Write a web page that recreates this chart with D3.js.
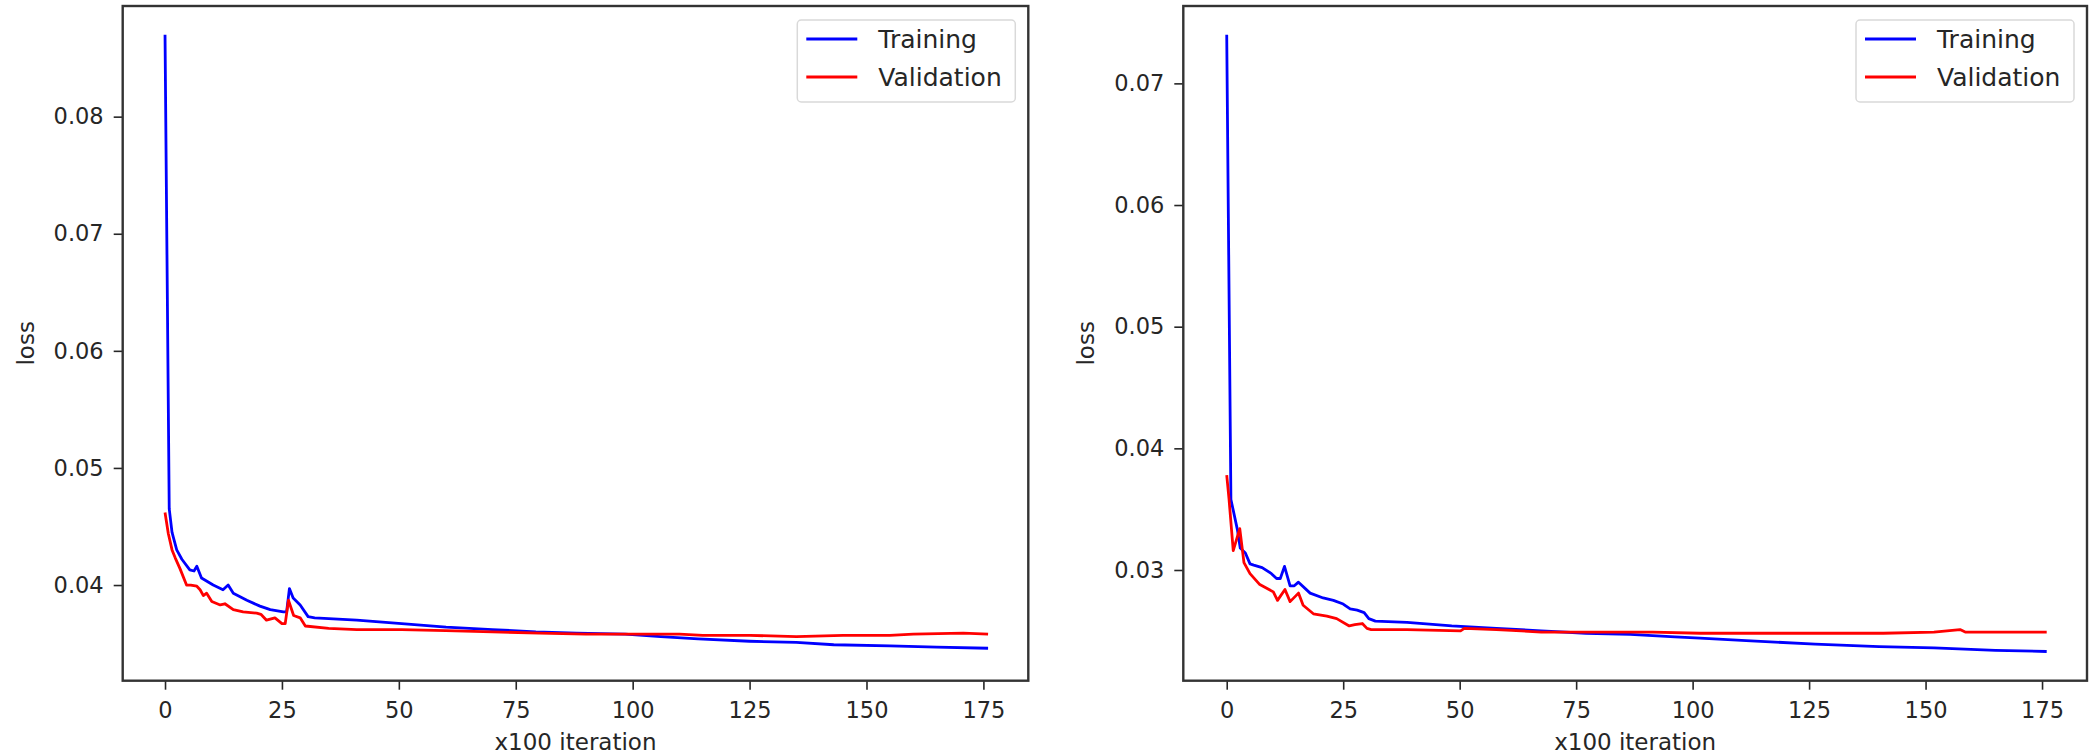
<!DOCTYPE html>
<html lang="en">
<head>
  <meta charset="UTF-8">
  <title>Loss curves</title>
  <script src="https://d3js.org/d3.v7.min.js"></script>
  <style>
    body { margin: 0; background: white; }
    text { font-family: "DejaVu Sans", sans-serif; fill: #262626; }
    .axis .domain { stroke: none; }
    .axis line { stroke: #262626; stroke-width: 1.6; }
  </style>
</head>
<body>
  <svg id="svg1" width="2100" height="755"></svg>
  <script>
    // x100 iteration, loss
    const leftTraining = [
      [0, 0.0870], [0.9, 0.0465], [1.5, 0.0445], [2.5, 0.0430], [3.6, 0.0422], [5.3, 0.0413],
      [6.2, 0.0412], [6.8, 0.0416], [7.8, 0.0406], [10.3, 0.0400], [12.4, 0.0396], [13.5, 0.0400],
      [14.6, 0.0393], [17.5, 0.0387], [20.3, 0.0382], [22.5, 0.0379], [25.3, 0.0377], [26.0, 0.0377],
      [26.6, 0.0397], [27.4, 0.0389], [28.9, 0.0383], [30.6, 0.0373], [32, 0.0372], [41, 0.0370],
      [50.6, 0.0367], [60.1, 0.0364], [70, 0.0362], [79.3, 0.0360], [88, 0.0359], [98.4, 0.0358],
      [106, 0.0356], [114, 0.0354], [125, 0.0352], [135, 0.0351], [143, 0.0349], [155, 0.0348],
      [165, 0.0347], [176, 0.0346]
    ];
    const leftValidation = [
      [0, 0.0462], [0.7, 0.0444], [1.5, 0.0430], [2.2, 0.0423], [3.2, 0.0414], [4.6, 0.0400],
      [5.5, 0.0400], [6.8, 0.0399], [7.5, 0.0396], [8.2, 0.0391], [8.9, 0.0393], [10.0, 0.0386],
      [11.8, 0.0383], [12.8, 0.0384], [14.6, 0.0379], [16.7, 0.0377], [19.6, 0.0376], [20.5, 0.0375],
      [21.7, 0.0370], [23.5, 0.0372], [25.0, 0.0367], [25.7, 0.0367], [26.4, 0.0387], [27.5, 0.0374],
      [28.9, 0.0372], [30, 0.0365], [35, 0.0363], [41, 0.0362], [50.6, 0.0362], [60, 0.0361],
      [70, 0.0360], [80, 0.0359], [90, 0.0358], [100, 0.0358], [110, 0.0358], [115, 0.0357],
      [125, 0.0357], [135, 0.0356], [145, 0.0357], [155, 0.0357], [160, 0.0358], [170.7, 0.0359],
      [176, 0.0358]
    ];
    const rightTraining = [
      [0, 0.0740], [0.9, 0.0358], [2.3, 0.0333], [2.9, 0.0318], [4.0, 0.0314], [5.0, 0.0305],
      [5.8, 0.0304], [7.6, 0.0302], [9.6, 0.0297], [10.7, 0.0293], [11.5, 0.0293], [12.4, 0.0303],
      [13.6, 0.0287], [14.5, 0.0287], [15.4, 0.0290], [17.9, 0.0281], [20.7, 0.0277], [22.9, 0.0275],
      [25, 0.0272], [26.5, 0.0268], [28, 0.0267], [29.5, 0.0265], [30.5, 0.0260], [31.9, 0.0258],
      [38.7, 0.0257], [48.3, 0.0254], [57.9, 0.0252], [67.5, 0.0250], [77.1, 0.0248], [86.6, 0.0247],
      [96.2, 0.0245], [101.6, 0.0244], [111.5, 0.0242], [126.3, 0.0239], [140, 0.0237],
      [151.8, 0.0236], [165, 0.0234], [176, 0.0233]
    ];
    const rightValidation = [
      [0, 0.0378], [0.5, 0.0358], [1.4, 0.0316], [2.8, 0.0334], [3.7, 0.0306], [5.0, 0.0297],
      [7.1, 0.0288], [10.0, 0.0282], [10.9, 0.0275], [12.5, 0.0284], [13.6, 0.0274], [15.4, 0.0281],
      [16.4, 0.0271], [18.6, 0.0264], [21.5, 0.0262], [23.6, 0.0260], [26.3, 0.0254], [27.5, 0.0255],
      [29.1, 0.0256], [30.1, 0.0252], [31, 0.0251], [38.7, 0.0251], [50.2, 0.0250], [51, 0.0252],
      [57.9, 0.0251], [67.5, 0.0249], [77.1, 0.0249], [91.4, 0.0249], [101.6, 0.0248], [111.5, 0.0248],
      [126.3, 0.0248], [140.9, 0.0248], [151.8, 0.0249], [157.4, 0.0251], [158.5, 0.0249],
      [166, 0.0249], [176, 0.0249]
    ];

    const xTicks = [0, 25, 50, 75, 100, 125, 150, 175];
    const leftYTicks = [0.04, 0.05, 0.06, 0.07, 0.08];
    const rightYTicks = [0.03, 0.04, 0.05, 0.06, 0.07];
    const seriesNames = ["Training", "Validation"];
    const seriesColors = ["#0000ff", "#ff0000"];

    let svg1 = d3.select("svg#svg1");

    function drawPanel(id, box, xDomain, yDomain, yTicks, series) {
      let width = box.right - box.left;
      let height = box.bottom - box.top;

      let panel = svg1.append("g").attr("id", id)
                      .attr("transform", `translate(${box.left},${box.top})`);

      const xScale = d3.scaleLinear().domain(xDomain).range([0, width]);
      const yScale = d3.scaleLinear().domain(yDomain).range([height, 0]);

      panel.append("clipPath").attr("id", id + "_clip")
           .append("rect").attr("width", width).attr("height", height);

      let lineGen = d3.line()
                      .x(d => xScale(d[0]))
                      .y(d => yScale(d[1]));

      let chartArea = panel.append("g").attr("clip-path", `url(#${id}_clip)`);
      series.forEach((s, i) => {
        chartArea.append("path")
                 .datum(s)
                 .attr("fill", "none")
                 .attr("stroke", seriesColors[i])
                 .attr("stroke-width", 2.8)
                 .attr("stroke-linejoin", "round")
                 .attr("d", lineGen);
      });

      // axes
      panel.append("g")
           .attr("class", "axis")
           .attr("transform", `translate(0,${height})`)
           .call(d3.axisBottom(xScale).tickValues(xTicks).tickSize(9).tickPadding(12))
           .selectAll("text").style("font-size", "22.5px");

      panel.append("g")
           .attr("class", "axis")
           .call(d3.axisLeft(yScale).tickValues(yTicks).tickSize(9).tickPadding(10)
                   .tickFormat(d3.format(".2f")))
           .selectAll("text").style("font-size", "22.5px");

      // frame
      panel.append("rect")
           .attr("width", width).attr("height", height)
           .attr("fill", "none").attr("stroke", "#333").attr("stroke-width", 2.4);

      // axis labels
      panel.append("text")
           .attr("x", width / 2)
           .attr("y", 750 - box.top)
           .attr("text-anchor", "middle")
           .style("font-size", "23px")
           .text("x100 iteration");

      panel.append("text")
           .attr("transform", `translate(-89,${height / 2}) rotate(-90)`)
           .attr("text-anchor", "middle")
           .style("font-size", "23px")
           .text("loss");

      // legend
      let legend = panel.append("g")
                        .attr("transform", `translate(${width - 231},${14})`);
      legend.append("rect")
            .attr("width", 218).attr("height", 82)
            .attr("rx", 4)
            .attr("fill", "white").attr("fill-opacity", 0.8)
            .attr("stroke", "#d9d9d9").attr("stroke-width", 1.5);
      seriesNames.forEach((name, i) => {
        let cy = 19 + i * 38;
        legend.append("line")
              .attr("x1", 9).attr("x2", 60)
              .attr("y1", cy).attr("y2", cy)
              .attr("stroke", seriesColors[i]).attr("stroke-width", 2.8);
        legend.append("text")
              .attr("x", 81).attr("y", cy)
              .attr("dy", "0.36em")
              .style("font-size", "25px")
              .text(name);
      });
    }

    drawPanel("left", {left: 122.7, right: 1028.3, top: 6, bottom: 680.7},
              [-9.05, 184.6], [0.03183, 0.08945], leftYTicks, [leftTraining, leftValidation]);

    drawPanel("right", {left: 1183.3, right: 2087, top: 6, bottom: 680.7},
              [-9.32, 184.65], [0.0209, 0.07636], rightYTicks, [rightTraining, rightValidation]);
  </script>
</body>
</html>
